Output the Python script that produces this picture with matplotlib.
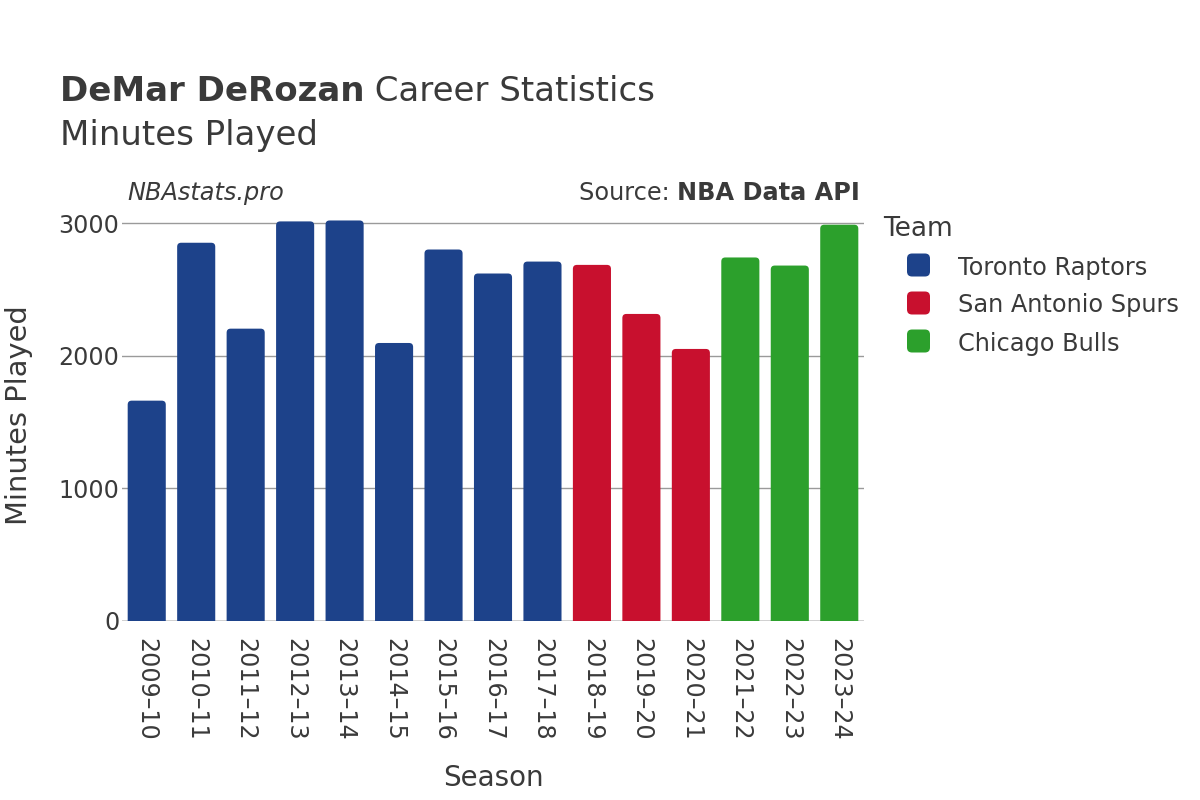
"""DeMar DeRozan career minutes played, bar chart by season and team."""
import matplotlib

matplotlib.use("Agg")
import matplotlib.pyplot as plt
from matplotlib.patches import FancyBboxPatch

seasons = ["2009–10", "2010–11", "2011–12", "2012–13", "2013–14", "2014–15",
           "2015–16", "2016–17", "2017–18", "2018–19", "2019–20", "2020–21",
           "2021–22", "2022–23", "2023–24"]
minutes = [1662, 2853, 2205, 3014, 3021, 2097, 2802, 2621, 2711, 2686,
           2316, 2052, 2742, 2681, 2989]
teams = ["Toronto Raptors"] * 9 + ["San Antonio Spurs"] * 3 + ["Chicago Bulls"] * 3
team_order = ["Toronto Raptors", "San Antonio Spurs", "Chicago Bulls"]
team_colors = {
    "Toronto Raptors": "#1d428a",
    "San Antonio Spurs": "#c8102e",
    "Chicago Bulls": "#2ca02c",
}

TEXT = "#3a3a3a"
W, H = 1200, 800
plt.rcParams["font.family"] = ["DejaVu Sans"]

fig = plt.figure(figsize=(12, 8), dpi=100)
ax_l, ax_r, ax_b, ax_t = 122, 864, 621, 210
ax = fig.add_axes([ax_l / W, 1 - ax_b / H, (ax_r - ax_l) / W, (ax_b - ax_t) / H])

y_top = 3100
ax.set_xlim(-0.5, len(seasons) - 0.5)
ax.set_ylim(0, y_top)

# rounded bars: radius ~4px in both directions
px_x = len(seasons) / (ax_r - ax_l)
px_y = y_top / (ax_b - ax_t)
width = 0.77
for i, (m, t) in enumerate(zip(minutes, teams)):
    patch = FancyBboxPatch(
        (i - width / 2, -40), width, m + 40,
        boxstyle=f"round,pad=0,rounding_size={4 * px_x}",
        mutation_aspect=px_y / px_x,
        facecolor=team_colors[t], edgecolor="none", zorder=3,
    )
    ax.add_patch(patch)

ax.set_yticks([0, 1000, 2000, 3000])
ax.set_yticklabels(["0", "1000", "2000", "3000"])
ax.yaxis.grid(True, color="#9a9a9a", linewidth=1, zorder=0)
ax.axhline(0, color="#d9d9d9", linewidth=1.2, zorder=1)
ax.set_xticks(range(len(seasons)))
ax.set_xticklabels(seasons, rotation=-90, va="top", ha="center")
ax.tick_params(axis="both", length=0, labelsize=17.1, colors=TEXT)
ax.tick_params(axis="x", pad=12)
ax.tick_params(axis="y", pad=2)
for s in ax.spines.values():
    s.set_visible(False)

ax.set_xlabel("Season", fontsize=20, color=TEXT, labelpad=17)
ax.set_ylabel("Minutes Played", fontsize=20.8, color=TEXT, labelpad=18)

# titles
renderer = fig.canvas.get_renderer()
t1 = fig.text(60 / W, 1 - 101 / H, "DeMar DeRozan", fontsize=24.5,
              fontweight="bold", color=TEXT, va="baseline")
x_end = t1.get_window_extent(renderer).x1
fig.text(x_end / W, 1 - 101 / H, " Career Statistics", fontsize=24.5,
         color=TEXT, va="baseline")
fig.text(60 / W, 1 - 145 / H, "Minutes Played", fontsize=24.5, color=TEXT,
         va="baseline")
fig.text(127 / W, 1 - 200 / H, "NBAstats.pro", fontsize=17.3,
         style="italic", color=TEXT, va="baseline")
t2 = fig.text(860 / W, 1 - 200 / H, "NBA Data API", fontsize=17.3,
              fontweight="bold", color=TEXT, va="baseline", ha="right")
x_start = t2.get_window_extent(renderer).x0
fig.text(x_start / W, 1 - 200 / H, "Source: ", fontsize=17.3, color=TEXT,
         va="baseline", ha="right")

# legend
fig.text(883 / W, 1 - 236 / H, "Team", fontsize=19, color=TEXT,
         va="baseline")
for k, name in enumerate(team_order):
    yc = 265 + 38 * k
    box = FancyBboxPatch(
        (907 / W, 1 - (yc + 11.5) / H), 23 / W, 23 / H,
        boxstyle=f"round,pad=0,rounding_size={5 / W}",
        mutation_aspect=W / H,
        transform=fig.transFigure, facecolor=team_colors[name],
        edgecolor="none",
    )
    fig.patches.append(box)
    fig.text(958 / W, 1 - yc / H, name, fontsize=17.3, color=TEXT,
             va="center_baseline")

fig.savefig("out.png", dpi=100)
